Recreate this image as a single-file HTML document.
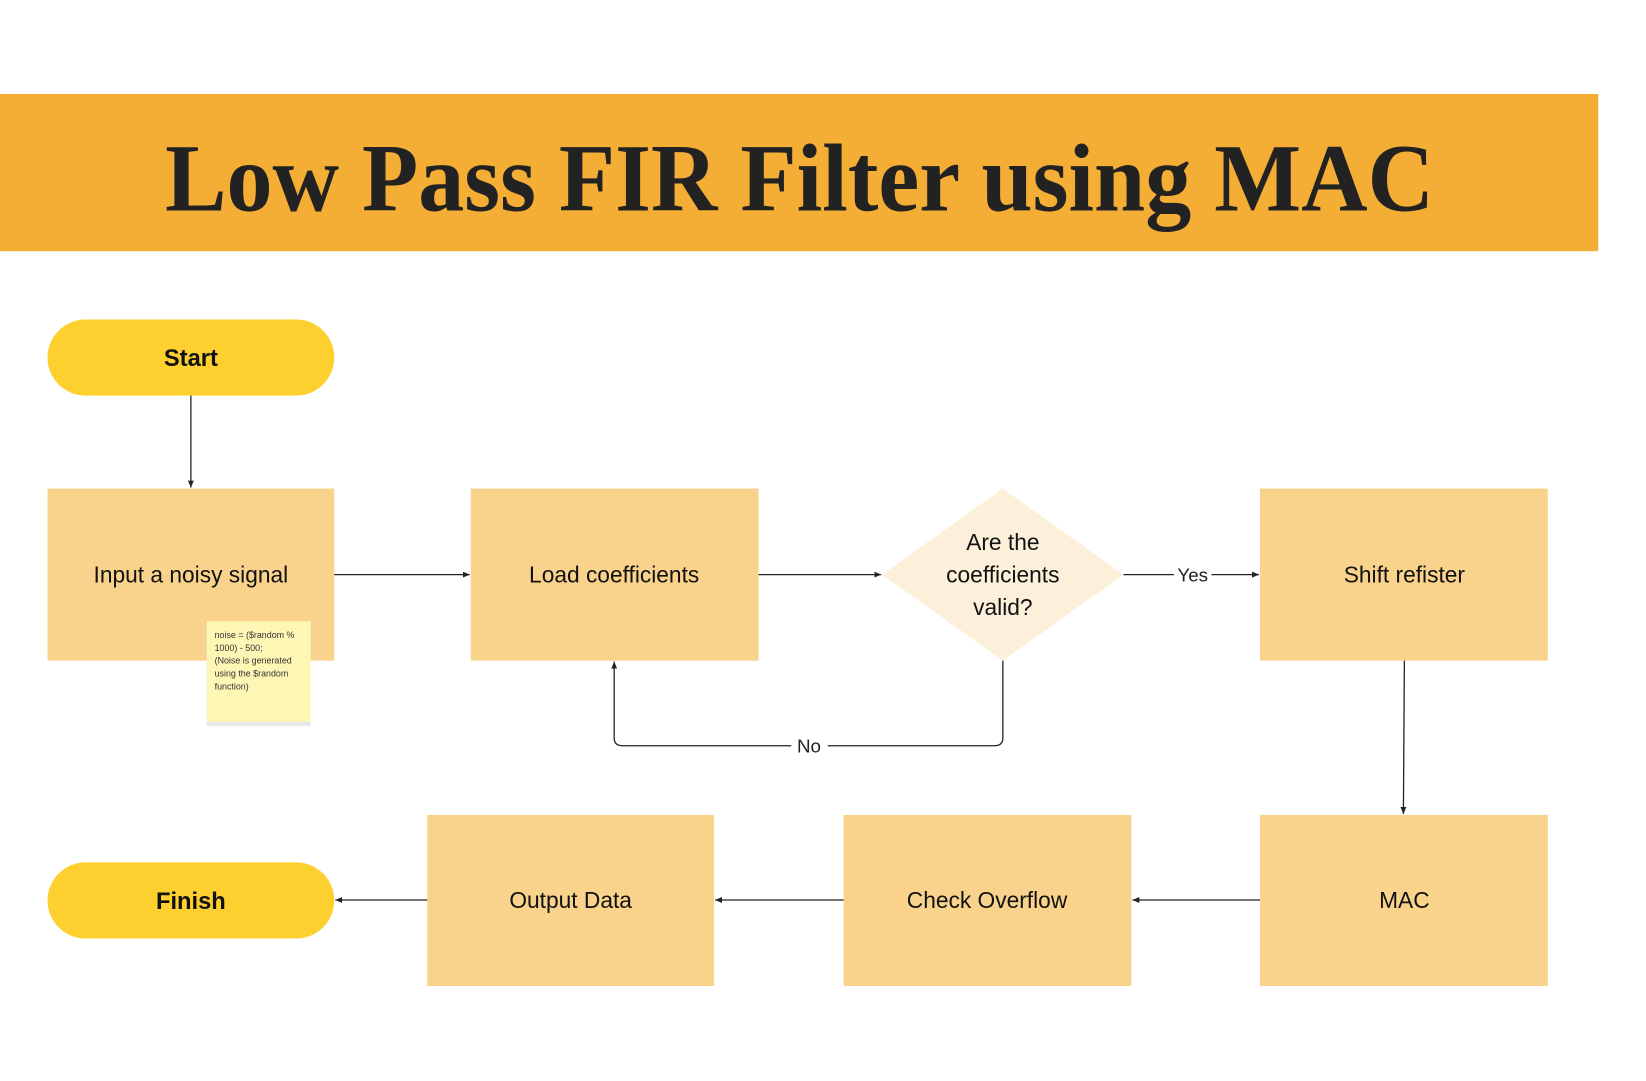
<!DOCTYPE html>
<html><head><meta charset="utf-8"><style>
html,body{margin:0;padding:0;background:#fff}
body{width:1646px;height:1081px;position:relative;overflow:hidden;font-family:"Liberation Sans",sans-serif}
</style></head><body>
<svg width="1646" height="1081" viewBox="0 0 1646 1081" xmlns="http://www.w3.org/2000/svg" style="position:absolute;left:0;top:0">
<defs><marker id="a" markerWidth="8" markerHeight="8" refX="7" refY="4" orient="auto" markerUnits="userSpaceOnUse"><path d="M0,1 L7,4 L0,7 z" fill="#222"/></marker></defs>
<g transform="scale(0.989)">
<rect x="0" y="95" width="1616" height="159" fill="#F4AD35"/>
<text x="167" y="213" font-family="Liberation Serif,serif" font-weight="bold" font-size="98" fill="#222" textLength="1283" lengthAdjust="spacingAndGlyphs">Low Pass FIR Filter using MAC</text>
<rect x="48" y="323" width="290" height="77" rx="38.5" fill="#FDD030"/>
<text x="193" y="370" text-anchor="middle" font-size="24" font-weight="bold" fill="#111">Start</text>
<rect x="48" y="872" width="290" height="77" rx="38.5" fill="#FDD030"/>
<text x="193" y="919" text-anchor="middle" font-size="24" font-weight="bold" fill="#111">Finish</text>
<g fill="#F9D38C">
<rect x="48" y="494" width="290" height="174"/>
<rect x="476" y="494" width="291" height="174"/>
<rect x="1274" y="494" width="291" height="174"/>
<rect x="432" y="824" width="290" height="173"/>
<rect x="853" y="824" width="291" height="173"/>
<rect x="1274" y="824" width="291" height="173"/>
</g>
<polygon points="1014,494 1136,581 1014,668 892,581" fill="#FDF0DA"/>
<g font-size="23" fill="#111" text-anchor="middle">
<text x="193" y="589">Input a noisy signal</text>
<text x="621" y="589">Load coefficients</text>
<text x="1420" y="589">Shift refister</text>
<text x="577" y="918">Output Data</text>
<text x="998" y="918">Check Overflow</text>
<text x="1420" y="918">MAC</text>
<text x="1014" y="556">Are the</text>
<text x="1014" y="589">coefficients</text>
<text x="1014" y="622">valid?</text>
</g>
<g stroke="#222" stroke-width="1.3" fill="none">
<line x1="193" y1="400" x2="193" y2="493" marker-end="url(#a)"/>
<line x1="338" y1="581" x2="475" y2="581" marker-end="url(#a)"/>
<line x1="767" y1="581" x2="891" y2="581" marker-end="url(#a)"/>
<line x1="1136" y1="581" x2="1187" y2="581"/>
<line x1="1225" y1="581" x2="1273" y2="581" marker-end="url(#a)"/>
<path d="M1014,668 V746 Q1014,754 1006,754 H837 M800,754 H629 Q621,754 621,746 V669" marker-end="url(#a)"/>
<line x1="1420" y1="668" x2="1419" y2="823" marker-end="url(#a)"/>
<line x1="1274" y1="910" x2="1145" y2="910" marker-end="url(#a)"/>
<line x1="853" y1="910" x2="723" y2="910" marker-end="url(#a)"/>
<line x1="432" y1="910" x2="339" y2="910" marker-end="url(#a)"/>
</g>
<text x="1206" y="588" text-anchor="middle" font-size="19" fill="#222">Yes</text>
<text x="818" y="761" text-anchor="middle" font-size="19" fill="#222">No</text>
<rect x="209" y="632" width="105" height="102" fill="#e8e8e8"/>
<rect x="209" y="628" width="105" height="102" fill="#FDF6B4"/>
<g font-size="9" fill="#333">
<text x="217" y="645">noise = ($random %</text>
<text x="217" y="658">1000) - 500;</text>
<text x="217" y="671">(Noise is generated</text>
<text x="217" y="684">using the $random</text>
<text x="217" y="697">function)</text>
</g>
</g>
</svg>
</body></html>
